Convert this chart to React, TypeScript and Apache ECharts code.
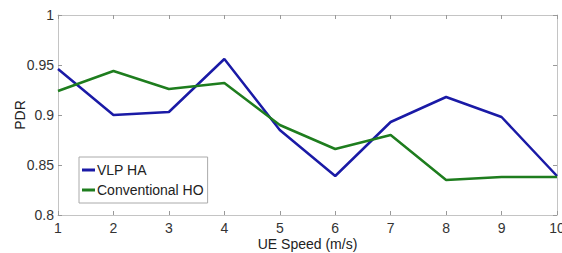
import React, { useEffect, useRef } from "react";
import * as echarts from "echarts";

const speeds = [1, 2, 3, 4, 5, 6, 7, 8, 9, 10];
const vlpHA = [0.946, 0.9, 0.903, 0.956, 0.885, 0.839, 0.893, 0.918, 0.898, 0.839];
const conventionalHO = [0.924, 0.944, 0.926, 0.932, 0.89, 0.866, 0.88, 0.835, 0.838, 0.838];

const FONT = "'Liberation Sans', Arial, sans-serif";

export default function App() {
  const ref = useRef<HTMLDivElement>(null);
  useEffect(() => {
    if (!ref.current) return;
    const chart = echarts.init(ref.current, null, { renderer: "svg" });
    const axisLine = { show: true, lineStyle: { color: "#c4c4c4", width: 1 } };
    const axisTick = { show: true, inside: true, length: 4, lineStyle: { color: "#999" } };
    chart.setOption({
      animation: false,
      backgroundColor: "#fff",
      grid: { left: 58, right: 5, top: 15, bottom: 38, containLabel: false, outerBoundsMode: "none" },
      legend: {
        orient: "vertical",
        left: 79,
        top: 157,
        padding: [6, 4, 6, 3],
        itemGap: 6,
        itemWidth: 13,
        itemHeight: 3,
        icon: "rect",
        borderColor: "#aaa",
        borderWidth: 1,
        backgroundColor: "#fff",
        textStyle: { fontFamily: FONT, fontSize: 14, color: "#222", padding: [0, 0, 0, -3] },
        data: ["VLP HA", "Conventional HO"],
      },
      xAxis: [
        {
          type: "value",
          min: 1,
          max: 10,
          interval: 1,
          name: "UE Speed (m/s)",
          nameLocation: "middle",
          nameGap: 22,
          nameMoveOverlap: false,
          nameTextStyle: { fontFamily: FONT, fontSize: 14, color: "#222" },
          axisLine,
          axisTick,
          splitLine: { show: false },
          axisLabel: { fontFamily: FONT, fontSize: 14, color: "#333", margin: 6 },
        },
        {
          type: "value",
          position: "top",
          min: 1,
          max: 10,
          interval: 1,
          axisLine,
          axisTick,
          splitLine: { show: false },
          axisLabel: { show: false },
        },
      ],
      yAxis: [
        {
          type: "value",
          min: 0.8,
          max: 1,
          interval: 0.05,
          name: "PDR",
          nameLocation: "middle",
          nameGap: 31,
          nameMoveOverlap: false,
          nameRotate: 90,
          nameTextStyle: { fontFamily: FONT, fontSize: 14, color: "#222" },
          axisLine,
          axisTick,
          splitLine: { show: false },
          axisLabel: {
            fontFamily: FONT,
            fontSize: 14,
            color: "#333",
            margin: 4,
            formatter: (v: number) => String(Math.round(v * 100) / 100),
          },
        },
        {
          type: "value",
          position: "right",
          min: 0.8,
          max: 1,
          interval: 0.05,
          axisLine,
          axisTick,
          splitLine: { show: false },
          axisLabel: { show: false },
        },
      ],
      series: [
        {
          name: "VLP HA",
          type: "line",
          data: speeds.map((s, i) => [s, vlpHA[i]]),
          showSymbol: false,
          symbol: "none",
          lineStyle: { color: "#1a1aa6", width: 2.5 },
          itemStyle: { color: "#1a1aa6" },
        },
        {
          name: "Conventional HO",
          type: "line",
          data: speeds.map((s, i) => [s, conventionalHO[i]]),
          showSymbol: false,
          symbol: "none",
          lineStyle: { color: "#1e7d1e", width: 2.5 },
          itemStyle: { color: "#1e7d1e" },
        },
      ],
    });
    return () => chart.dispose();
  }, []);
  return <div ref={ref} style={{ width: 562, height: 253, position: "absolute", left: 0, top: 0 }} />;
}
